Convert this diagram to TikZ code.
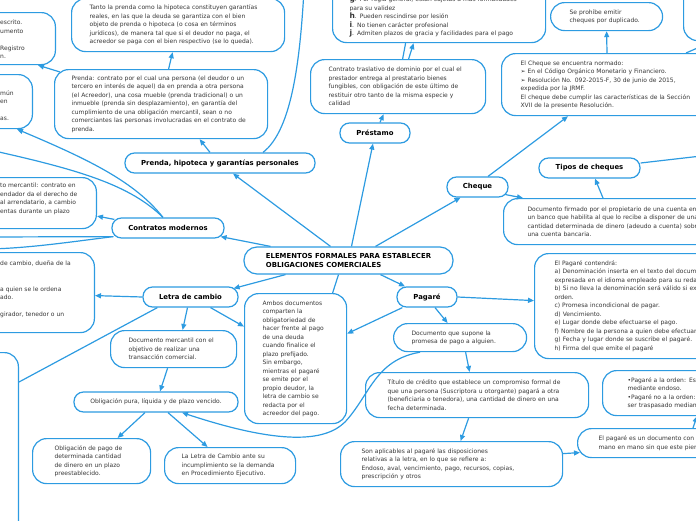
\documentclass[tikz,border=0pt]{standalone}
\usepackage{fontspec}
\setmainfont{DejaVu Sans}
\usetikzlibrary{arrows.meta}
\definecolor{mapblue}{RGB}{45,155,225}
\definecolor{txtgray}{RGB}{55,55,55}
\newcommand{\smalltxt}{\fontsize{6}{8.5}\selectfont}
\newcommand{\topictxt}{\fontsize{6.9}{8.5}\selectfont\bfseries}
\newcommand{\listlet}[1]{{\fontsize{7.5}{8.5}\selectfont\bfseries #1}}

\begin{document}
\begin{tikzpicture}[x=1pt, y=-1pt,
        txtbox/.style={draw=mapblue, line width=1.2pt, fill=white, rounded corners=14pt, anchor=north west, align=left, font=\smalltxt, text=txtgray, inner ysep=0pt},
        partbox/.style={draw=mapblue, line width=1.2pt, fill=white, rounded corners=14pt, inner sep=0pt},
        parttxt/.style={anchor=north west, align=left, font=\smalltxt, text=txtgray, inner sep=0pt},
        topic/.style={draw=mapblue, line width=1.2pt, fill=white, rounded corners=9.5pt, minimum height=20pt, inner sep=0pt, font=\topictxt, text=black},
        conn/.style={draw=mapblue, line width=1.2pt},
        arr/.style={conn, -{Triangle[length=6pt,width=5pt]}}
    ]
        \useasboundingbox (0,0) rectangle (696,520);
        \clip (0,0) rectangle (696,520);

        % Boxes cut by the left and right edges
        \node[partbox, anchor=north east, minimum width=120pt, minimum height=52pt] (aBox) at (56,12) {};
        \node[parttxt] (aText) at (0,20) {escrito.\\umento\\\strut\\Registro\\n.};
        \node[partbox, anchor=north east, minimum width=100pt, minimum height=54pt] (bBox) at (33,74) {};
        \node[parttxt] (bText) at (0,90) {mún\\en\\\strut\\as.};
        \node[partbox, anchor=north east, minimum width=160pt, minimum height=51pt] (cBox) at (97,177) {};
        \node[parttxt] (cText) at (0,183) {to mercantil: contrato en\\endador da el derecho de\\al arrendatario, a cambio\\entas durante un plazo};
        \node[partbox, anchor=north east, minimum width=160pt, minimum height=80pt] (dBox) at (95,252) {};
        \node[parttxt] (dText) at (0,261) {de cambio, dueña de la\\\strut\\\strut\\a quien se le ordena\\ado.\\\strut\\girador, tenedor o un};
        \node[partbox, anchor=north east, minimum width=100pt, minimum height=220pt] (eBox) at (19,352) {};
        \node[partbox, anchor=north west, minimum width=100pt, minimum height=70pt] (trBox) at (683,-30) {};

        % Main topics
        \node[topic, align=left, minimum width=209pt, minimum height=27pt, rounded corners=13pt] (cent) at (348.5,260.5) {ELEMENTOS FORMALES PARA ESTABLECER\\OBLIGACIONES COMERCIALES};
        \node[topic, minimum width=190pt] (phg) at (220,163) {Prenda, hipoteca y garantías personales};
        \node[topic, minimum width=112pt] (contr) at (168,228) {Contratos modernos};
        \node[topic, minimum width=95pt] (letra) at (190.5,297) {Letra de cambio};
        \node[topic, minimum width=70pt] (prest) at (375,133) {Préstamo};
        \node[topic, minimum width=61pt] (cheq) at (477.5,187) {Cheque};
        \node[topic, minimum width=101pt] (tipos) at (589.5,168) {Tipos de cheques};
        \node[topic, minimum width=60pt] (pag) at (427,297) {Pagaré};
        \node[topic, minimum width=164pt, font=\smalltxt, text=txtgray] (oblig) at (156,402) {Obligación pura, líquida y de plazo vencido.};

        % Text boxes
        \node[txtbox, text width=177pt, inner xsep=18pt, minimum height=53pt] (tanto) at (71,-2) {Tanto la prenda como la hipoteca constituyen garantías\\reales, en las que la deuda se garantiza con el bien\\objeto de prenda o hipoteca (o cosa en términos\\jurídicos), de manera tal que si el deudor no paga, el\\acreedor se paga con el bien respectivo (se lo queda).};
        \node[txtbox, text width=179pt, inner xsep=17pt, minimum height=69pt] (prenda) at (54,69) {Prenda: contrato por el cual una persona (el deudor o un\\tercero en interés de aquel) da en prenda a otra persona\\(el Acreedor), una cosa mueble (prenda tradicional) o un\\inmueble (prenda sin desplazamiento), en garantía del\\cumplimiento de una obligación mercantil, sean o no\\comerciantes las personas involucradas en el contrato de\\prenda.};
        \node[txtbox, text width=179pt, inner xsep=17pt, minimum height=69pt] (lista) at (332,-27) {\strut\\\strut\\\listlet{g}. Por regla general, están sujetas a más formalidades\\para su validez\\\listlet{h}. Pueden rescindirse por lesión\\\listlet{i}. No tienen carácter profesional\\\listlet{j}. Admiten plazos de gracia y facilidades para el pago};
        \node[txtbox, text width=139pt, inner xsep=18pt, minimum height=54pt] (traslat) at (310,59) {Contrato traslativo de dominio por el cual el\\prestador entrega al prestatario bienes\\fungibles, con obligación de este último de\\restituir otro tanto de la misma especie y\\calidad};
        \node[txtbox, text width=74pt, inner xsep=19pt, minimum height=28pt] (prohibe) at (550,2) {Se prohíbe emitir\\cheques por duplicado.};
        \node[txtbox, text width=250pt, inner xsep=19pt, minimum height=62pt] (normado) at (501,53) {El Cheque se encuentra normado:\\➢ En el Código Orgánico Monetario y Financiero.\\➢ Resolución No. 092-2015-F, 30 de junio de 2015,\\expedida por la JRMF.\\El cheque debe cumplir las características de la Sección\\XVII de la presente Resolución.};
        \node[txtbox, text width=250pt, inner xsep=24pt, minimum height=46pt] (docfirm) at (503,198) {Documento firmado por el propietario de una cuenta en\\un banco que habilita al que lo recibe a disponer de una\\cantidad determinada de dinero (adeudo a cuenta) sobr\\una cuenta bancaria.};
        \node[txtbox, text width=250pt, inner xsep=20pt, minimum height=105pt] (contend) at (534,253) {El Pagaré contendrá:\\a) Denominación inserta en el texto del docume\\expresada en el idioma empleado para su reda\\b) Si no lleva la denominación será válido si ex\\orden.\\c) Promesa incondicional de pagar.\\d) Vencimiento.\\e) Lugar donde debe efectuarse el pago.\\f) Nombre de la persona a quien debe efectuar\\g) Fecha y lugar donde se suscribe el pagaré.\\h) Firma del que emite el pagaré};
        \node[txtbox, text width=66pt, inner xsep=18pt, minimum height=130pt] (ambos) at (244,293) {Ambos documentos\\comparten la\\obligatoriedad de\\hacer frente al pago\\de una deuda\\cuando finalice el\\plazo prefijado.\\Sin embargo,\\mientras el pagaré\\se emite por el\\propio deudor, la\\letra de cambio se\\redacta por el\\acreedor del pago.};
        \node[txtbox, text width=90pt, inner xsep=18pt, minimum height=37pt] (docmerc) at (110,330) {Documento mercantil con el\\objetivo de realizar una\\transacción comercial.};
        \node[txtbox, text width=74pt, inner xsep=22pt, minimum height=45pt] (obpago) at (32,438) {Obligación de pago de\\determinada cantidad\\de dinero en un plazo\\preestablecido.};
        \node[txtbox, text width=97pt, inner xsep=17pt, minimum height=36pt] (ldem) at (164,447) {La Letra de Cambio ante su\\incumplimiento se la demanda\\en Procedimiento Ejecutivo.};
        \node[txtbox, text width=97pt, inner xsep=18pt, minimum height=28pt] (docpag) at (393,323) {Documento que supone la\\promesa de pago a alguien.};
        \node[txtbox, text width=179pt, inner xsep=22pt, minimum height=45pt] (titulo) at (365,372) {Título de crédito que establece un compromiso formal de\\que una persona (Suscriptora u otorgante) pagará a otra\\(beneficiaria o tenedora), una cantidad de dinero en una\\fecha determinada.};
        \node[txtbox, text width=180pt, inner xsep=21pt, minimum height=45pt] (sonapl) at (340,441) {Son aplicables al pagaré las disposiciones\\relativas a la letra, en lo que se refiere a:\\Endoso, aval, vencimiento, pago, recursos, copias,\\prescripción y otros};
        \node[txtbox, text width=200pt, inner xsep=21pt, minimum height=29pt] (endoso) at (577,428) {El pagaré es un documento con p\\mano en mano sin que este pier};
        \node[txtbox, text width=200pt, inner xsep=25pt, minimum height=45pt] (orden) at (602,370) {•Pagaré a la orden: Es\\mediante endoso.\\•Pagaré no a la orden:\\ser traspasado mediant};

        % Free ends off the page
        \coordinate (offA) at (-10,150);
        \coordinate (offB) at (-10,237);
        \coordinate (offC) at (-10,249);
        \coordinate (offT) at (304,-10);
        \coordinate (offR) at (710,155);

        % Connectors from the central topic
        \draw[arr] ([xshift=-18pt]cent.north) -- ([xshift=13pt]phg.south);
        \draw[arr] ([xshift=3pt]cent.north) -- ([xshift=-2pt]prest.south);
        \draw[arr] ([xshift=27pt]cent.north) -- ([xshift=-17pt]cheq.south);
        \draw[arr] ([xshift=-78pt]cent.north) -- ([xshift=-4pt,yshift=2pt]contr.south east);
        \draw[arr] ([xshift=-63pt]cent.south) -- ([xshift=-5pt,yshift=-2pt]letra.north east);
        \draw[arr] ([xshift=32pt]cent.south) -- ([xshift=-22pt]pag.north);
        \draw[conn] ([xshift=-10pt]cent.south) -- ([xshift=37pt]ambos.north);

        % Contratos modernos
        \draw[arr] ([xshift=3pt,yshift=-2pt]contr.north west) -- ([yshift=-13pt]cBox.east);
        \draw[arr] ([xshift=-5pt]contr.north) .. controls (135,182) and (90,160) .. ([xshift=-16pt]bBox.south east);
        \draw[conn] ([xshift=-5pt]contr.north) .. controls (130,185) and (80,170) .. (offA);
        \draw[conn] ([xshift=2pt,yshift=2pt]contr.south west) -- (offB);
        \draw[conn] ([xshift=2pt,yshift=2pt]contr.south west) .. controls (70,242) and (30,248) .. (offC);

        % Prenda, hipoteca y garantias
        \draw[arr] ([xshift=-10pt]phg.north) -- ([xshift=38.5pt]prenda.south);
        \draw[conn] ([xshift=43pt]phg.north) .. controls (292,130) and (300,60) .. (offT);
        \draw[arr] ([xshift=7.5pt]prenda.north) -- ([xshift=-5.5pt]tanto.south);
        \draw[arr] ([xshift=6pt,yshift=-3pt]prenda.north west) -- ([xshift=-18pt]aBox.south east);

        % Prestamo
        \draw[arr] ([xshift=5pt]prest.north) -- ([xshift=-14.5pt]traslat.south);
        \draw[conn] ([xshift=4.5pt]traslat.north) -- ([xshift=-33.5pt]lista.south);
        \draw[arr] ([xshift=10.5pt]traslat.north) -- ([xshift=-25.5pt]lista.south);

        % Cheque
        \draw[arr] ([xshift=10.5pt]cheq.north) -- ([xshift=67pt]normado.south west);
        \draw[arr] ([xshift=106pt]normado.north west) -- (prohibe.south);
        \draw[arr] ([xshift=185pt]normado.north west) -- ([xshift=30pt]trBox.south west);
        \draw[arr] ([xshift=-3pt,yshift=3pt]cheq.south east) -- ([xshift=20pt]docfirm.north west);
        \draw[arr] ([xshift=100pt]docfirm.north west) -- ([xshift=5.5pt]tipos.south);
        \draw[conn] ([yshift=5pt]tipos.east) -- (offR);

        % Letra de cambio
        \draw[arr] (letra.west) -- ([yshift=-3pt]dBox.east);
        \draw[arr] ([xshift=-3pt]letra.south) -- ([xshift=9pt]docmerc.north);
        \draw[conn] ([xshift=15pt]letra.south west) -- ([yshift=-30pt]eBox.north east);
        \draw[arr] ([xshift=20pt]letra.south) -- ([yshift=32pt]ambos.west);
        \draw[arr] ([xshift=-6pt]docmerc.south) -- ([xshift=4pt]oblig.north);
        \draw[arr] ([xshift=-11pt]oblig.south) -- ([xshift=26pt]obpago.north);
        \draw[arr] ([xshift=12pt]oblig.south) -- ([xshift=-22.5pt]ldem.north);

        % Pagare
        \draw[arr] ([xshift=8pt]pag.south) -- ([xshift=-12.5pt]docpag.north);
        \draw[arr] (pag.east) -- ([yshift=5.5pt]contend.west);
        \draw[arr] ([xshift=6pt]pag.south west) -- ([yshift=25pt]ambos.east);
        \draw[arr] ([xshift=5.5pt]docpag.south) -- ([xshift=-7.5pt]titulo.north);
        \draw[arr] ([xshift=-8.5pt]titulo.south) -- ([xshift=9pt]sonapl.north);
        \draw[arr] ([yshift=10.5pt]sonapl.east) -- ([xshift=3pt,yshift=-9.5pt]endoso.west);
        \draw[arr] ([xshift=116pt]endoso.north west) -- ([xshift=95pt]orden.south west);
        \draw[arr] ([xshift=27pt]docpag.south west) .. controls (375,360) and (370,395) .. (345,422) .. controls (325,442) and (280,445) .. ([xshift=26pt]oblig.south);
    \end{tikzpicture}
\end{document}
